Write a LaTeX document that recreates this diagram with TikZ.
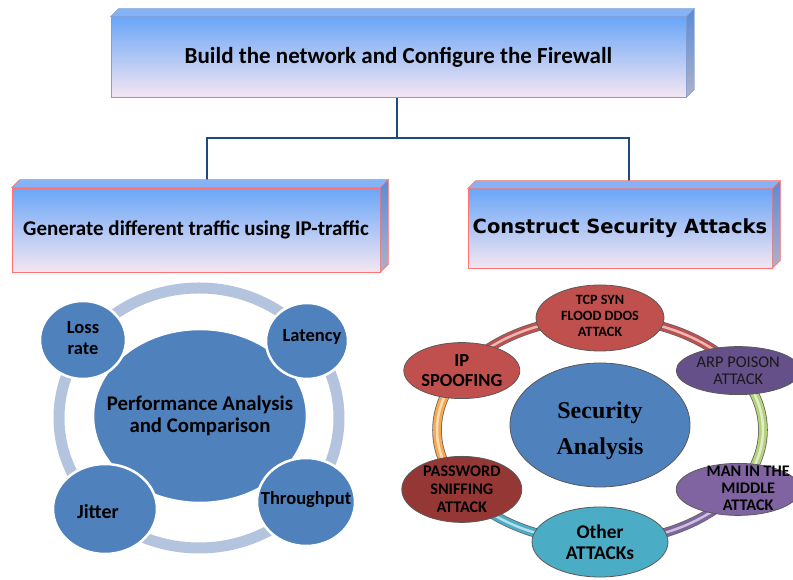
\documentclass[tikz,border=0pt]{standalone}
\usepackage{fontspec}
\setmainfont{Carlito}
\newfontfamily\serifbold{Liberation Serif}
\newfontfamily\comicfont{DejaVu Sans}
\usetikzlibrary{shapes.geometric}

\definecolor{boxtop}{HTML}{6AA6F8}
\definecolor{boxbot}{HTML}{F4E6F1}
\definecolor{facetop}{HTML}{85B3F6}
\definecolor{sidetop}{HTML}{5A8CD6}
\definecolor{sidebot}{HTML}{B0B0C8}
\definecolor{topedge}{HTML}{7F9FD6}
\definecolor{linkblue}{HTML}{1F497D}
\definecolor{circblue}{HTML}{4F81BD}
\definecolor{ringgrey}{HTML}{B4C4DF}
\definecolor{atkred}{HTML}{C0504D}
\definecolor{atkdark}{HTML}{953735}
\definecolor{atkplum}{HTML}{65508A}
\definecolor{atkviolet}{HTML}{8064A2}
\definecolor{atkteal}{HTML}{4BACC6}
\definecolor{ringgreen}{HTML}{B5D27A}
\definecolor{ringorange}{HTML}{F9A84E}

\begin{document}
\begin{tikzpicture}[x=1pt,y=1pt,
	box/.style={draw=#1, line width=0.7pt, top color=boxtop, bottom color=boxbot,
		inner sep=0pt, font=\bfseries\fontsize{23}{27}\selectfont},
	face/.style={draw=#1, line width=0.7pt},
	link/.style={draw=linkblue, line width=2pt},
	perf/.style={ellipse, fill=circblue, draw=white, line width=2.5pt, inner sep=0pt},
	perftext/.style={align=center, inner sep=0pt, font=\bfseries\fontsize{18.5}{21}\selectfont},
	attack/.style={ellipse, fill=#1, draw=black!65, line width=0.8pt, inner sep=0pt},
	attacktext/.style={align=center, inner sep=0pt, font=\bfseries\fontsize{16.2}{18}\selectfont},
	seg/.style={draw=#1, line width=8pt, preaction={draw=black!60, line width=9.6pt},
		postaction={draw=#1!40!white, line width=2.5pt}}]
	\useasboundingbox (0,0) rectangle (793,580);

	%Connections between the boxes
	\coordinate (split) at (397,442);
	\coordinate (trafficin) at (207,392);
	\coordinate (attacksin) at (629,391);
	\draw[link] (397,483) -- (split);
	\draw[link] (split) -| (trafficin);
	\draw[link] (split) -| (attacksin);

	%Box at the top
	\node[box=topedge, minimum width=575, minimum height=80] (top) at (398.5,523)
	{Build the network and Configure the Firewall};
	\draw[face=topedge, fill=facetop] (top.north west) -- ++(8,8)
	-- ([shift={(8,8)}]top.north east) -- (top.north east) -- cycle;
	\draw[face=topedge, top color=sidetop, bottom color=sidebot] (top.north east)
	-- ++(8,8) -- ([shift={(8,8)}]top.south east) -- (top.south east) -- cycle;

	%Box at the left
	\node[box=red!55, minimum width=368, minimum height=84,
	font=\bfseries\fontsize{21}{25}\selectfont] (traffic) at (196,350)
	{Generate different traffic using IP-traffic};
	\draw[face=red!55, fill=facetop] (traffic.north west) -- ++(8,8)
	-- ([shift={(8,8)}]traffic.north east) -- (traffic.north east) -- cycle;
	\draw[face=red!55, top color=sidetop, bottom color=sidebot] (traffic.north east)
	-- ++(8,8) -- ([shift={(8,8)}]traffic.south east) -- (traffic.south east) -- cycle;

	%Box at the right
	\node[box=red!55, minimum width=304, minimum height=79,
	font=\comicfont\bfseries\fontsize{19.5}{23}\selectfont] (attacks) at (620,351.5)
	{Construct Security Attacks};
	\draw[face=red!55, fill=facetop] (attacks.north west) -- ++(8,8)
	-- ([shift={(8,8)}]attacks.north east) -- (attacks.north east) -- cycle;
	\draw[face=red!55, top color=sidetop, bottom color=sidebot] (attacks.north east)
	-- ++(8,8) -- ([shift={(8,8)}]attacks.south east) -- (attacks.south east) -- cycle;

	%Performance ring
	\draw[ringgrey, line width=11pt] (199,162) ellipse [x radius=140, y radius=130];
	\node[perf, minimum width=214, minimum height=174,
	label={[perftext, font=\bfseries\fontsize{20.8}{22}\selectfont]center:Performance Analysis\\and Comparison}]
	(perf) at (200,164) {};
	\node[perf, minimum width=86, minimum height=78,
	label={[perftext, yshift=2]center:Loss\\rate}] (loss) at (83,240) {};
	\node[perf, minimum width=82, minimum height=76,
	label={[perftext, xshift=5, yshift=4]center:Latency}] (latency) at (307,239) {};
	\node[perf, minimum width=104, minimum height=90,
	label={[perftext, font=\bfseries\fontsize{20}{24}\selectfont, xshift=-7, yshift=-3]center:Jitter}]
	(jitter) at (105,71) {};
	\node[perf, minimum width=98, minimum height=88,
	label={[perftext, yshift=2]center:Throughput}] (throughput) at (306,78) {};

	%Security ring, cut at the attacks
	\coordinate (ip) at (461.8,209.4);
	\coordinate (tcp) at (600,262);
	\coordinate (arp) at (738.2,209.4);
	\coordinate (mitm) at (738.2,90.6);
	\coordinate (other) at (600,38);
	\coordinate (pass) at (461.8,90.6);
	\draw[seg=atkred] (ip) arc [start angle=148, end angle=90, x radius=163, y radius=112];
	\draw[seg=atkred] (tcp) arc [start angle=90, end angle=32, x radius=163, y radius=112];
	\draw[seg=ringgreen] (arp) arc [start angle=32, end angle=-32, x radius=163, y radius=112];
	\draw[seg=atkviolet] (mitm) arc [start angle=-32, end angle=-90, x radius=163, y radius=112];
	\draw[seg=atkteal] (other) arc [start angle=-90, end angle=-148, x radius=163, y radius=112];
	\draw[seg=ringorange] (pass) arc [start angle=212, end angle=148, x radius=163, y radius=112];

	%Security analysis and the attacks
	\node[attack=circblue, minimum width=180, minimum height=124,
	label={[attacktext, font=\serifbold\bfseries\fontsize{24}{36}\selectfont, yshift=-6]center:Security\\Analysis}]
	(security) at (600,155) {};
	\node[attack=atkred, minimum width=128, minimum height=66,
	label={[attacktext, font=\bfseries\fontsize{14.2}{16}\selectfont, yshift=2]center:TCP SYN\\FLOOD DDOS\\ATTACK}]
	(tcpnode) at (tcp) {};
	\node[attack=atkplum, minimum width=124, minimum height=48,
	label={[attacktext, font=\fontsize{16.4}{17}\selectfont, text=black!90]center:ARP POISON\\ATTACK}]
	(arpnode) at (arp) {};
	\node[attack=atkred, minimum width=116, minimum height=56,
	label={[attacktext, font=\bfseries\fontsize{18.5}{20}\selectfont]center:IP\\SPOOFING}]
	(ipnode) at (ip) {};
	\node[attack=atkdark, minimum width=120, minimum height=66,
	label={[attacktext]center:PASSWORD\\SNIFFING\\ATTACK}] (passnode) at (pass) {};
	\node[attack=atkviolet, minimum width=124, minimum height=52,
	label={[attacktext, font=\bfseries\fontsize{16.2}{17}\selectfont, xshift=10, yshift=1]center:MAN IN THE\\MIDDLE\\ATTACK}]
	(mitmnode) at (mitm) {};
	\node[attack=atkteal, minimum width=136, minimum height=70,
	label={[attacktext, font=\bfseries\fontsize{19.4}{21}\selectfont]center:Other\\ATTACKs}]
	(othernode) at (other) {};
\end{tikzpicture}
\end{document}
